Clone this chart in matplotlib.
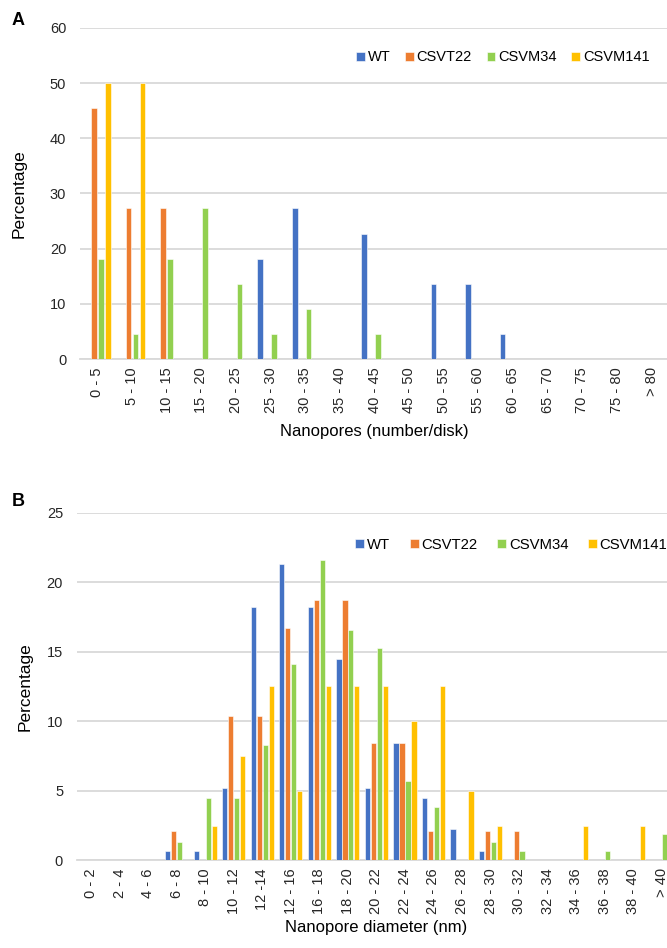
import numpy as np
import matplotlib.pyplot as plt

plt.rcParams['font.family'] = ['Liberation Sans', 'DejaVu Sans']

series = ["WT", "CSVT22", "CSVM34", "CSVM141"]
colors = ["#4472C4", "#ED7D31", "#92D050", "#FFC000"]

# panel A: nanopores per disk
catsA = ["0 - 5", "5 - 10", "10 - 15", "15 - 20", "20 - 25", "25 - 30", "30 - 35",
         "35 - 40", "40 - 45", "45 - 50", "50 - 55", "55 - 60", "60 - 65",
         "65 - 70", "70 - 75", "75 - 80", "> 80"]
wtA      = [0, 0, 0, 0, 0, 18.2, 27.3, 0, 22.7, 0, 13.6, 13.6, 4.5, 0, 0, 0, 0]
csvt22A  = [45.5, 27.3, 27.3, 0, 0, 0, 0, 0, 0, 0, 0, 0, 0, 0, 0, 0, 0]
csvm34A  = [18.2, 4.5, 18.2, 27.3, 13.6, 4.5, 9.1, 0, 4.5, 0, 0, 0, 0, 0, 0, 0, 0]
csvm141A = [50, 50, 0, 0, 0, 0, 0, 0, 0, 0, 0, 0, 0, 0, 0, 0, 0]

# panel B: nanopore diameter
catsB = ["0 - 2", "2 - 4", "4 - 6", "6 - 8", "8 - 10", "10 - 12", "12 -14", "12 - 16",
         "16 - 18", "18 - 20", "20 - 22", "22 - 24", "24 - 26", "26 - 28", "28 - 30",
         "30 - 32", "32 - 34", "34 - 36", "36 - 38", "38 - 40", "> 40"]
wtB      = [0, 0, 0, 0.67, 0.67, 5.2, 18.25, 21.3, 18.25, 14.45, 5.2, 8.4, 4.45, 2.2, 0.67, 0, 0, 0, 0, 0, 0]
csvt22B  = [0, 0, 0, 2.1, 0, 10.4, 10.4, 16.7, 18.75, 18.75, 8.4, 8.4, 2.1, 0, 2.1, 2.1, 0, 0, 0, 0, 0]
csvm34B  = [0, 0, 0, 1.3, 4.45, 4.45, 8.27, 14.1, 21.6, 16.6, 15.3, 5.7, 3.8, 0, 1.3, 0.67, 0, 0, 0.67, 0, 1.9]
csvm141B = [0, 0, 0, 0, 2.45, 7.5, 12.5, 5.0, 12.5, 12.5, 12.5, 10.0, 12.5, 5.0, 2.45, 0, 0, 2.45, 0, 2.45, 0]

grid_c = "#d9d9d9"


def bars(ax, cats, data, ymax, step, slot, width, lpad):
    x = np.arange(len(cats))
    n = len(data)
    for k, (vals, c, name) in enumerate(zip(data, colors, series)):
        off = (k - (n - 1) / 2) * slot
        ax.bar(x + off, vals, width, color=c, edgecolor="white", linewidth=0.4,
               label=name, zorder=3)
    ax.set_xlim(-0.5, len(cats) - 0.5)
    ax.set_ylim(0, ymax)
    ax.set_yticks(np.arange(0, ymax + 0.1, step))
    ax.set_xticks(x)
    ax.set_xticklabels(cats, rotation=90, fontsize=10.5, color="#262626")
    ax.tick_params(axis="y", labelsize=10.5, colors="#262626", length=0, pad=10)
    ax.tick_params(axis="x", length=0, pad=6)
    ax.grid(axis="y", color=grid_c, linewidth=1.3, zorder=0)
    for s in ["top", "right", "left"]:
        ax.spines[s].set_visible(False)
    ax.spines["bottom"].set_color(grid_c)
    ax.spines["bottom"].set_linewidth(1.3)
    ax.set_ylabel("Percentage", fontsize=12.5, labelpad=lpad)


fig = plt.figure(figsize=(6.67, 9.48), dpi=100)

axA = fig.add_axes([0.120, 0.6213, 0.883, 0.3492])
bars(axA, catsA, [wtA, csvt22A, csvm34A, csvm141A], 60, 10, 0.2, 0.16, 17)
axA.set_xlabel("Nanopores (number/disk)", fontsize=12, labelpad=8)
axA.legend(loc="center left", bbox_to_anchor=(0.525, 0.9395), bbox_transform=fig.transFigure,
           ncol=4, frameon=False, fontsize=10.5, handlelength=0.6, handleheight=0.6,
           handletextpad=0.2, columnspacing=1.0, borderaxespad=0)

axB = fig.add_axes([0.1154, 0.0928, 0.898, 0.3661])
bars(axB, catsB, [wtB, csvt22B, csvm34B, csvm141B], 25, 5, 0.21, 0.18, 10)
axB.set_xlabel("Nanopore diameter (nm)", fontsize=12, labelpad=4)
axB.legend(loc="center left", bbox_to_anchor=(0.524, 0.4251), bbox_transform=fig.transFigure,
           ncol=4, frameon=False, fontsize=10.7, handlelength=0.6, handleheight=0.6,
           handletextpad=0.2, columnspacing=1.3, borderaxespad=0)

fig.text(0.018, 0.9785, "A", fontsize=13, fontweight="bold", va="center")
fig.text(0.018, 0.4705, "B", fontsize=13, fontweight="bold", va="center")

fig.savefig("out.png", dpi=100)
